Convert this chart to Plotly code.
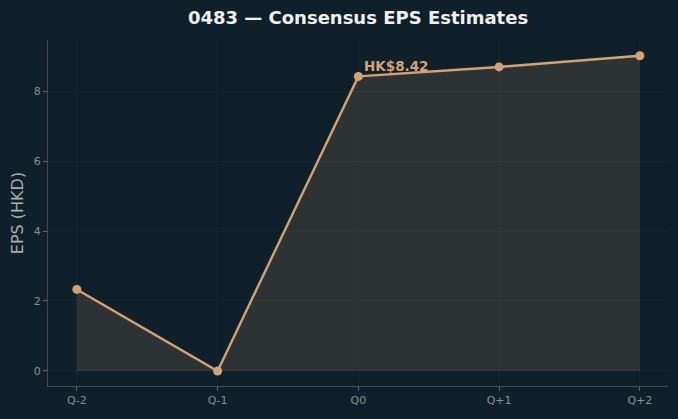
import plotly.graph_objects as go

quarters = ["Q-2", "Q-1", "Q0", "Q+1", "Q+2"]
eps = [2.33, 0.0, 8.42, 8.69, 9.01]
label_text = "HK$8.42"
label_index = 2

BG = "#10202a"
LINE = "#d4a373"

fig = go.Figure()
fig.add_trace(go.Scatter(
    x=list(range(len(quarters))), y=eps,
    mode="lines+markers",
    line=dict(color=LINE, width=2.4),
    marker=dict(color=LINE, size=9),
    fill="tozeroy", fillcolor="rgba(212,163,115,0.15)",
    hoverinfo="skip",
))
fig.add_annotation(
    x=label_index, y=eps[label_index], text="<b>" + label_text + "</b>",
    showarrow=False, xanchor="left", yanchor="bottom",
    xshift=4, yshift=0,
    font=dict(family="DejaVu Sans", size=13.5, color=LINE),
)
fig.update_layout(
    width=678, height=419,
    paper_bgcolor=BG, plot_bgcolor=BG,
    margin=dict(l=48, r=10, t=40, b=33),
    showlegend=False,
    title=dict(text="<b>0483 — Consensus EPS Estimates</b>", x=0.5, xref="paper", xanchor="center",
               y=1 - 18 / 419, yref="container", yanchor="middle",
               font=dict(family="DejaVu Sans", size=18, color="#f0f0f0")),
    font=dict(family="DejaVu Sans"),
)
fig.update_xaxes(
    range=[-0.205, 4.2],
    tickmode="array", tickvals=list(range(len(quarters))), ticktext=quarters,
    showgrid=True, gridcolor="rgba(255,255,255,0.025)", gridwidth=1,
    zeroline=False,
    showline=True, linecolor="#444a4d", linewidth=1,
    ticks="outside", tickcolor="#666", ticklen=4,
    tickfont=dict(size=11, color="#8a8f92"),
)
fig.update_yaxes(
    range=[-0.43, 9.46],
    tickvals=[0, 2, 4, 6, 8],
    showgrid=True, gridcolor="rgba(255,255,255,0.025)", gridwidth=1,
    zeroline=False,
    showline=True, linecolor="#444a4d", linewidth=1,
    ticks="outside", tickcolor="#666", ticklen=4,
    tickfont=dict(size=11, color="#8a8f92"),
    title=dict(text="EPS (HKD)", font=dict(size=16, color="#a9adb0"), standoff=6),
)
fig.write_html("out.html")
